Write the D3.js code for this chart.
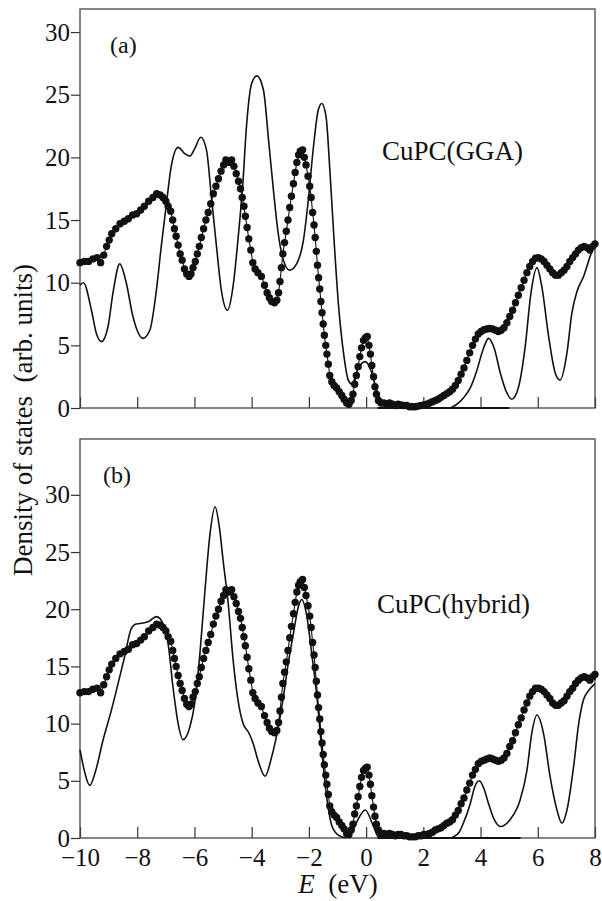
<!DOCTYPE html>
<html>
<head>
<meta charset="utf-8">
<script src="https://cdnjs.cloudflare.com/ajax/libs/d3/7.8.5/d3.min.js"></script>
</head>
<body style="margin:0; background:#fff">
<div id="chart"></div>
<script>
const energyTicks = [-10, -8, -6, -4, -2, 0, 2, 4, 6, 8];
const dosTicks = [0, 5, 10, 15, 20, 25, 30];

// experimental spectrum (dots), energies shared by both panels
const exptE = [
  -10.0,-9.85,-9.7,-9.55,-9.4,-9.28,-9.17,-9.07,-8.98,-8.89,
  -8.75,-8.6,-8.45,-8.31,-8.16,-8.02,-7.88,-7.75,-7.6,-7.45,
  -7.32,-7.2,-7.1,-7.0,-6.92,-6.83,-6.76,-6.70,-6.64,-6.57,
  -6.50,-6.43,-6.35,-6.27,-6.19,-6.12,-6.05,-5.97,-5.90,-5.83,
  -5.76,-5.68,-5.60,-5.52,-5.43,-5.34,-5.25,-5.16,-5.07,-4.98,
  -4.90,-4.80,-4.70,-4.62,-4.54,-4.46,-4.39,-4.33,-4.27,-4.22,
  -4.16,-4.10,-4.03,-3.96,-3.88,-3.78,-3.66,-3.55,-3.46,-3.38,
  -3.30,-3.20,-3.12,-3.06,-3.01,-2.96,-2.91,-2.85,-2.79,-2.73,
  -2.67,-2.61,-2.54,-2.48,-2.42,-2.36,-2.30,-2.22,-2.16,-2.10,
  -2.03,-1.97,-1.92,-1.87,-1.82,-1.78,-1.74,-1.70,-1.66,-1.62,
  -1.58,-1.54,-1.50,-1.46,-1.41,-1.37,-1.32,-1.27,-1.20,-1.12,
  -1.03,-0.94,-0.85,-0.77,-0.68,-0.60,-0.52,-0.46,-0.40,-0.34,
  -0.28,-0.22,-0.16,-0.09,-0.02,0.04,0.10,0.15,0.20,0.26,
  0.31,0.36,0.43,0.52,0.62,0.72,0.82,0.92,1.02,1.12,
  1.22,1.32,1.42,1.52,1.62,1.72,1.82,1.92,2.02,2.12,
  2.22,2.32,2.42,2.52,2.62,2.72,2.82,2.92,3.02,3.12,
  3.22,3.32,3.42,3.52,3.62,3.72,3.82,3.92,4.02,4.12,
  4.22,4.32,4.42,4.52,4.62,4.72,4.82,4.92,5.02,5.12,
  5.22,5.32,5.42,5.52,5.62,5.72,5.82,5.92,6.02,6.12,
  6.22,6.32,6.42,6.52,6.62,6.72,6.82,6.92,7.02,7.12,
  7.22,7.32,7.42,7.52,7.62,7.72,7.82,7.92,8.0
];
const exptGGA = [
  11.6,11.7,11.7,11.9,12.0,11.6,12.2,12.9,13.4,13.9,
  14.3,14.7,14.9,15.1,15.4,15.5,15.8,16.1,16.5,16.8,
  17.1,17.0,16.8,16.5,16.1,15.7,15.0,14.3,13.7,13.0,
  12.3,11.8,11.1,10.7,10.5,10.7,11.2,11.7,12.3,12.9,
  13.6,14.3,15.0,15.6,16.3,17.1,17.7,18.3,18.9,19.4,
  19.8,19.6,19.8,19.3,18.7,18.1,17.5,16.8,16.1,15.3,
  14.4,13.5,12.6,11.6,11.1,10.8,10.5,9.8,9.2,8.8,
  8.5,8.4,8.6,9.2,10.1,11.2,12.3,13.2,14.1,15.0,
  16.0,16.9,17.9,18.8,19.6,20.2,20.5,20.6,20.0,19.4,
  18.5,17.7,16.8,15.6,14.6,13.6,12.5,11.4,10.4,9.5,
  8.5,7.6,6.7,5.8,5.0,4.3,3.5,2.6,2.1,1.8,
  1.6,1.3,1.0,0.7,0.4,0.3,0.6,1.1,1.9,2.6,
  3.3,4.1,4.8,5.4,5.6,5.7,5.0,4.3,3.4,2.5,
  1.7,1.1,0.6,0.4,0.4,0.3,0.4,0.3,0.2,0.3,
  0.25,0.2,0.2,0.1,0.1,0.1,0.15,0.2,0.25,0.3,
  0.4,0.5,0.6,0.7,0.85,1.0,1.15,1.3,1.5,1.8,
  2.2,2.7,3.2,3.8,4.4,5.0,5.5,5.9,6.1,6.25,
  6.3,6.35,6.3,6.2,6.1,6.2,6.4,6.8,7.3,7.8,
  8.4,9.0,9.6,10.2,10.8,11.3,11.7,11.95,12.0,11.9,
  11.7,11.4,11.1,10.8,10.6,10.6,10.8,11.0,11.3,11.7,
  12.0,12.3,12.6,12.8,12.9,12.8,12.6,12.9,13.1
];
const exptHybrid = [
  12.7,12.8,12.8,13.0,13.1,12.7,13.4,14.1,14.7,15.2,
  15.7,16.1,16.3,16.5,16.9,17.0,17.3,17.6,18.1,18.4,
  18.7,18.6,18.4,18.1,17.6,17.2,16.4,15.7,15.0,14.2,
  13.5,12.9,12.2,11.7,11.5,11.7,12.3,12.8,13.5,14.1,
  14.9,15.7,16.4,17.1,17.8,18.7,19.4,20.0,20.7,21.2,
  21.7,21.5,21.7,21.1,20.5,19.8,19.2,18.4,17.6,16.8,
  15.8,14.8,13.8,12.7,12.2,11.8,11.5,10.7,10.1,9.6,
  9.3,9.2,9.4,10.1,11.1,12.3,13.5,14.5,15.4,16.4,
  17.5,18.5,19.6,20.6,21.5,22.1,22.4,22.6,21.9,21.2,
  20.3,19.4,18.4,17.1,16.0,14.9,13.7,12.5,11.4,10.4,
  9.3,8.3,7.3,6.4,5.5,4.7,3.8,2.8,2.3,2.0,
  1.8,1.4,1.1,0.8,0.4,0.3,0.7,1.2,2.1,2.8,
  3.6,4.5,5.3,5.9,6.1,6.2,5.5,4.7,3.7,2.7,
  1.9,1.2,0.7,0.4,0.4,0.3,0.4,0.3,0.2,0.3,
  0.3,0.2,0.2,0.1,0.1,0.1,0.2,0.2,0.3,0.3,
  0.4,0.5,0.7,0.8,0.9,1.1,1.3,1.4,1.6,2.0,
  2.4,3.0,3.5,4.2,4.8,5.5,6.0,6.5,6.7,6.8,
  6.9,7.0,6.9,6.8,6.7,6.8,7.0,7.4,8.0,8.5,
  9.2,9.9,10.5,11.2,11.8,12.4,12.8,13.1,13.1,13.0,
  12.8,12.5,12.2,11.8,11.6,11.6,11.8,12.0,12.4,12.8,
  13.1,13.5,13.8,14.0,14.1,14.0,13.8,14.1,14.3
];

// calculated DOS (solid lines)
const ggaE = [-10.0,-9.88,-9.6,-9.43,-9.25,-9.02,-8.85,-8.61,-8.38,-8.15,-7.8,-7.56,-7.33,-7.16,-6.98,-6.81,-6.57,-6.34,-6.16,-5.99,
  -5.78,-5.58,-5.41,-5.23,-5.06,-4.85,-4.65,-4.48,-4.3,-4.19,-4.0,-3.82,-3.59,-3.41,-3.24,-3.07,-2.89,-2.68,-2.42,-2.19,
  -2.02,-1.84,-1.67,-1.55,-1.4,-1.26,-1.12,-0.97,-0.79,-0.62,-0.5,-0.27,-0.03,0.2,0.37,0.55,0.75,1.0,2.0,2.9,
  3.17,3.4,3.64,3.87,4.1,4.28,4.48,4.69,4.92,5.09,5.33,5.56,5.76,5.97,6.14,6.38,6.61,6.78,7.02,7.19,
  7.37,7.6,7.83,8.0];
const ggaDos = [9.8,10.0,7.8,5.96,5.3,6.5,9.15,11.5,9.95,7.3,5.56,6.2,9.4,12.9,16.3,19.3,20.8,20.3,20.1,20.7,
  21.6,20.6,16.9,12.9,9.4,7.8,9.7,13.4,18.2,22.2,25.9,26.5,25.4,21.4,17.4,13.9,11.8,11.0,11.55,13.4,
  16.6,20.85,23.8,24.3,23.25,18.7,13.4,8.35,4.4,2.2,1.9,3.2,3.7,2.8,1.4,0.5,0.1,0,0,0,
  0.3,0.8,1.6,3.0,4.75,5.56,4.75,2.8,1.2,0.7,1.7,4.9,9.15,11.2,9.7,5.7,2.8,2.23,4.4,7.55,
  9.3,10.5,12.1,13.1];

const hybE = [-10.0,-9.85,-9.66,-9.45,-9.2,-8.9,-8.66,-8.44,-8.21,-8.05,-7.92,-7.62,-7.33,-7.1,-6.92,-6.75,-6.57,-6.4,-6.16,-5.99,
  -5.81,-5.64,-5.46,-5.28,-5.12,-5.0,-4.82,-4.65,-4.48,-4.3,-4.1,-3.94,-3.78,-3.53,-3.3,-3.07,-2.89,-2.72,-2.54,-2.37,
  -2.25,-2.07,-1.9,-1.72,-1.55,-1.38,-1.2,-0.97,-0.75,-0.55,-0.33,-0.03,0.26,0.43,0.6,1.5,2.9,3.05,3.25,3.4,
  3.64,3.8,3.96,4.12,4.28,4.48,4.69,5.03,5.38,5.62,5.79,5.97,6.2,6.43,6.67,6.84,7.02,7.25,7.43,7.6,
  7.78,8.0];
const hybDos = [7.7,5.9,4.6,5.9,8.5,11.2,13.6,15.85,18.3,18.7,18.75,18.9,19.35,18.75,17.0,13.2,10.0,8.6,9.7,11.8,
  16.1,21.4,26.5,28.96,27.0,24.3,20.5,15.6,12.1,10.0,9.2,8.2,6.8,5.4,7.1,9.7,12.35,15.3,17.9,20.2,
  20.85,19.35,16.1,12.35,7.7,3.6,1.1,0.25,0.05,0.3,1.4,2.45,1.0,0.1,0,0,0,0.1,0.5,1.3,
  3.0,4.5,5.0,4.3,3.0,1.6,1.0,1.6,3.3,5.9,9.15,10.75,9.15,5.36,2.45,1.3,2.45,6.2,10.0,12.1,
  12.9,13.5];

// zero-level stretch of the calculated curve drawn over the axis
const ggaZeroE = [0.4, 5.0];
const hybZeroE = [0.4, 5.4];

const W = 602, H = 901;
const left = 80, right = 595;
const ink = '#111';
const serif = '"Liberation Serif"';

const svg = d3.select('#chart').append('svg')
  .attr('width', W)
  .attr('height', H);

const x = d3.scaleLinear().domain([-10, 8]).range([left, right]);

function panel(opt) {
  const y = d3.scaleLinear().domain([0, opt.yMax]).range([opt.bottom, opt.top]);
  const g = svg.append('g');

  // y axis, ticks outward
  g.append('g')
    .attr('transform', 'translate(' + left + ',0)')
    .call(d3.axisLeft(y).tickValues(dosTicks).tickSize(9).tickPadding(1).tickFormat(d3.format('d')))
    .call(a => a.select('.domain').remove())
    .call(a => a.selectAll('line').attr('stroke', '#333').attr('stroke-width', 1.2))
    .call(a => a.selectAll('text').style('font-family', serif).style('font-size', '25px').attr('fill', ink));

  // x axis, ticks inward
  g.append('g')
    .attr('transform', 'translate(0,' + opt.bottom + ')')
    .call(d3.axisBottom(x).tickValues(energyTicks).tickSizeInner(-11).tickSizeOuter(0).tickPadding(10)
      .tickFormat(opt.labels ? d3.format('d') : ''))
    .call(a => a.select('.domain').remove())
    .call(a => a.selectAll('line').attr('stroke', '#333').attr('stroke-width', 1.2))
    .call(a => a.selectAll('text').style('font-family', serif).style('font-size', '25px').attr('fill', ink));

  // frame
  g.append('rect')
    .attr('x', left).attr('y', opt.top)
    .attr('width', right - left).attr('height', opt.bottom - opt.top)
    .attr('fill', 'none').attr('stroke', '#444').attr('stroke-width', 1.3);

  const pts = d3.zip(exptE, opt.expt);

  g.append('path')
    .datum(pts)
    .attr('fill', 'none').attr('stroke', ink).attr('stroke-width', 1.1)
    .attr('d', d3.line().x(d => x(d[0])).y(d => y(d[1])));

  g.selectAll('circle')
    .data(pts)
    .enter().append('circle')
      .attr('cx', d => x(d[0]))
      .attr('cy', d => y(d[1]))
      .attr('r', 3.7)
      .attr('fill', ink);

  g.append('path')
    .datum(d3.zip(opt.calcE, opt.calc))
    .attr('fill', 'none').attr('stroke', ink).attr('stroke-width', 1.6)
    .attr('d', d3.line().curve(d3.curveMonotoneX).x(d => x(d[0])).y(d => y(d[1])));

  g.append('path')
    .datum(opt.zeroE)
    .attr('fill', 'none').attr('stroke', ink).attr('stroke-width', 2)
    .attr('d', d3.line().x(d => x(d)).y(() => y(0)));

  g.append('text')
    .attr('x', opt.tagX).attr('y', opt.tagY)
    .style('font-family', serif).style('font-size', '24px')
    .attr('fill', ink)
    .text(opt.tag);

  g.append('text')
    .attr('x', opt.nameX).attr('y', opt.nameY)
    .style('font-family', serif).style('font-size', '27px')
    .attr('fill', ink)
    .text(opt.name);
}

panel({top: 9, bottom: 408, yMax: 31.84, expt: exptGGA, calcE: ggaE, calc: ggaDos, zeroE: ggaZeroE,
  labels: false, tag: '(a)', tagX: 110, tagY: 53, name: 'CuPC(GGA)', nameX: 382, nameY: 160});
panel({top: 439, bottom: 838, yMax: 34.88, expt: exptHybrid, calcE: hybE, calc: hybDos, zeroE: hybZeroE,
  labels: true, tag: '(b)', tagX: 103, tagY: 483, name: 'CuPC(hybrid)', nameX: 377, nameY: 613});

// axis titles
svg.append('text')
  .attr('transform', 'translate(32,420) rotate(-90)')
  .attr('text-anchor', 'middle')
  .style('font-family', serif).style('font-size', '27px')
  .style('white-space', 'pre')
  .attr('fill', ink)
  .text('Density of states  (arb. units)');

const xt = svg.append('text')
  .attr('x', 338).attr('y', 893)
  .attr('text-anchor', 'middle')
  .style('font-family', serif).style('font-size', '27px')
  .style('white-space', 'pre')
  .attr('fill', ink);
xt.append('tspan').style('font-style', 'italic').text('E');
xt.append('tspan').text('  (eV)');
</script>
</body>
</html>
